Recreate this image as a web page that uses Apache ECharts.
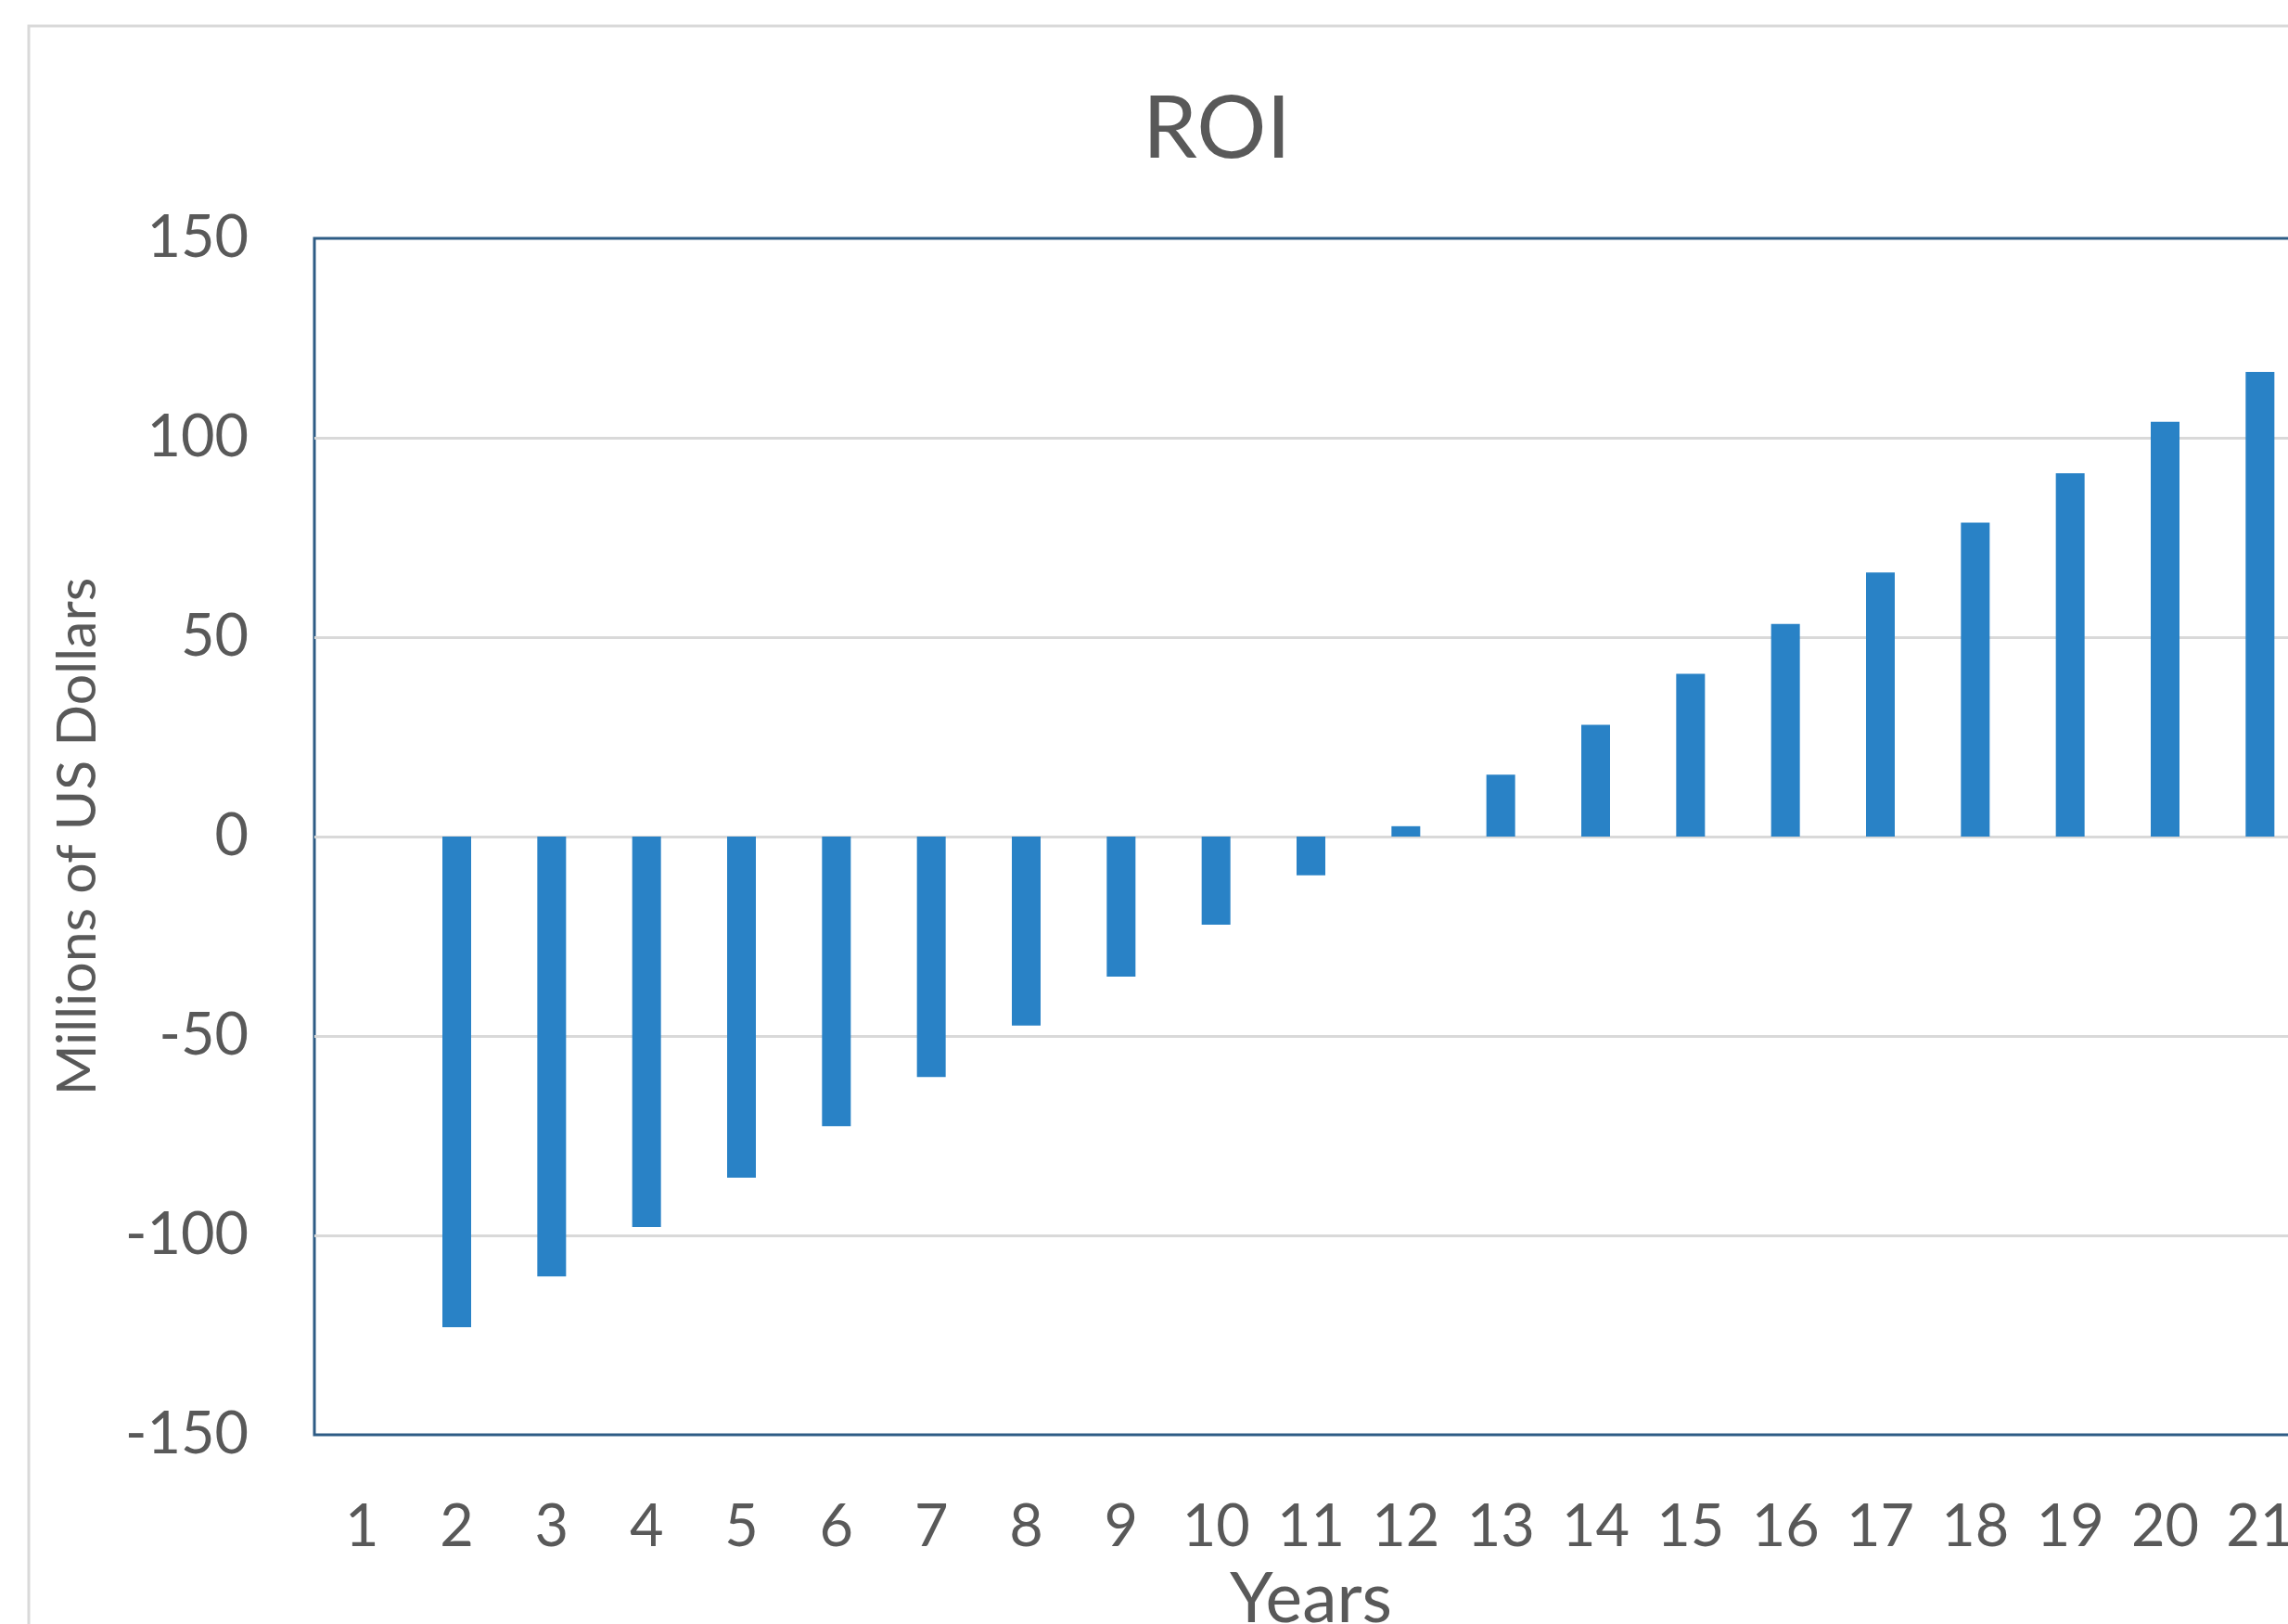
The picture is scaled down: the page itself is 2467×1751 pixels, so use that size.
<!DOCTYPE html>
<html>
<head>
<meta charset="utf-8">
<script src="https://cdn.jsdelivr.net/npm/echarts@6/dist/echarts.min.js"></script>
<style>
  html, body { margin: 0; padding: 0; background: #ffffff; }
  #chart { width: 2467px; height: 1751px; }
</style>
</head>
<body>
<div id="chart"></div>
<script>
const titleText = 'ROI';
const xAxisTitle = 'Years';
const yAxisTitle = 'Millions of US Dollars';
const years = ['1','2','3','4','5','6','7','8','9','10','11','12','13','14','15','16','17','18','19','20','21'];
const roi = [0, -123, -110.3, -97.9, -85.5, -72.6, -60.3, -47.4, -35.1, -22.1, -9.7, 2.6, 15.5, 28, 40.8, 53.3, 66.2, 78.7, 91.1, 104, 116.5];
const yMin = -150, yMax = 150, yStep = 50;

const textColor = '#595959';
const fontFamily = 'Lato, "Open Sans", sans-serif';

const chart = echarts.init(document.getElementById('chart'), null, { renderer: 'canvas' });
chart.setOption({
  backgroundColor: '#ffffff',
  animation: false,
  graphic: [{
    type: 'rect',
    shape: { x: 31, y: 28, width: 2700, height: 1900 },
    style: { fill: 'none', stroke: '#d9d9d9', lineWidth: 3 },
    silent: true, z: -10
  }],
  title: {
    text: titleText,
    left: 1307, top: 135,
    textAlign: 'center', textVerticalAlign: 'middle',
    textStyle: { color: textColor, fontFamily, fontSize: 94, fontWeight: 'normal' }
  },
  grid: {
    left: 339, top: 257, right: -21, bottom: 204,
    outerBoundsMode: 'none',
    show: true, borderColor: '#2e5c85', borderWidth: 3, backgroundColor: 'transparent',
    containLabel: false
  },
  xAxis: {
    type: 'category',
    data: years,
    boundaryGap: true,
    axisLine: { show: false, onZero: false },
    axisTick: { show: false },
    axisLabel: { color: textColor, fontFamily, fontSize: 63, margin: 68, interval: 0 },
    name: xAxisTitle,
    nameLocation: 'middle',
    nameGap: 140,
    nameTextStyle: { color: textColor, fontFamily, fontSize: 75 }
  },
  yAxis: {
    type: 'value',
    min: yMin, max: yMax, interval: yStep,
    axisLine: { show: false },
    axisTick: { show: false },
    axisLabel: { color: textColor, fontFamily, fontSize: 63, margin: 71, padding: [6, 0, 0, 0] },
    splitLine: { show: true, showMinLine: false, showMaxLine: false, lineStyle: { color: '#d9d9d9', width: 3 } },
    name: yAxisTitle,
    nameLocation: 'middle',
    nameGap: 226,
    nameRotate: 90,
    nameTextStyle: { color: textColor, fontFamily, fontSize: 59 }
  },
  series: [{
    type: 'bar',
    data: roi,
    barWidth: 31,
    itemStyle: { color: '#2982c6' }
  }]
});
</script>
</body>
</html>
